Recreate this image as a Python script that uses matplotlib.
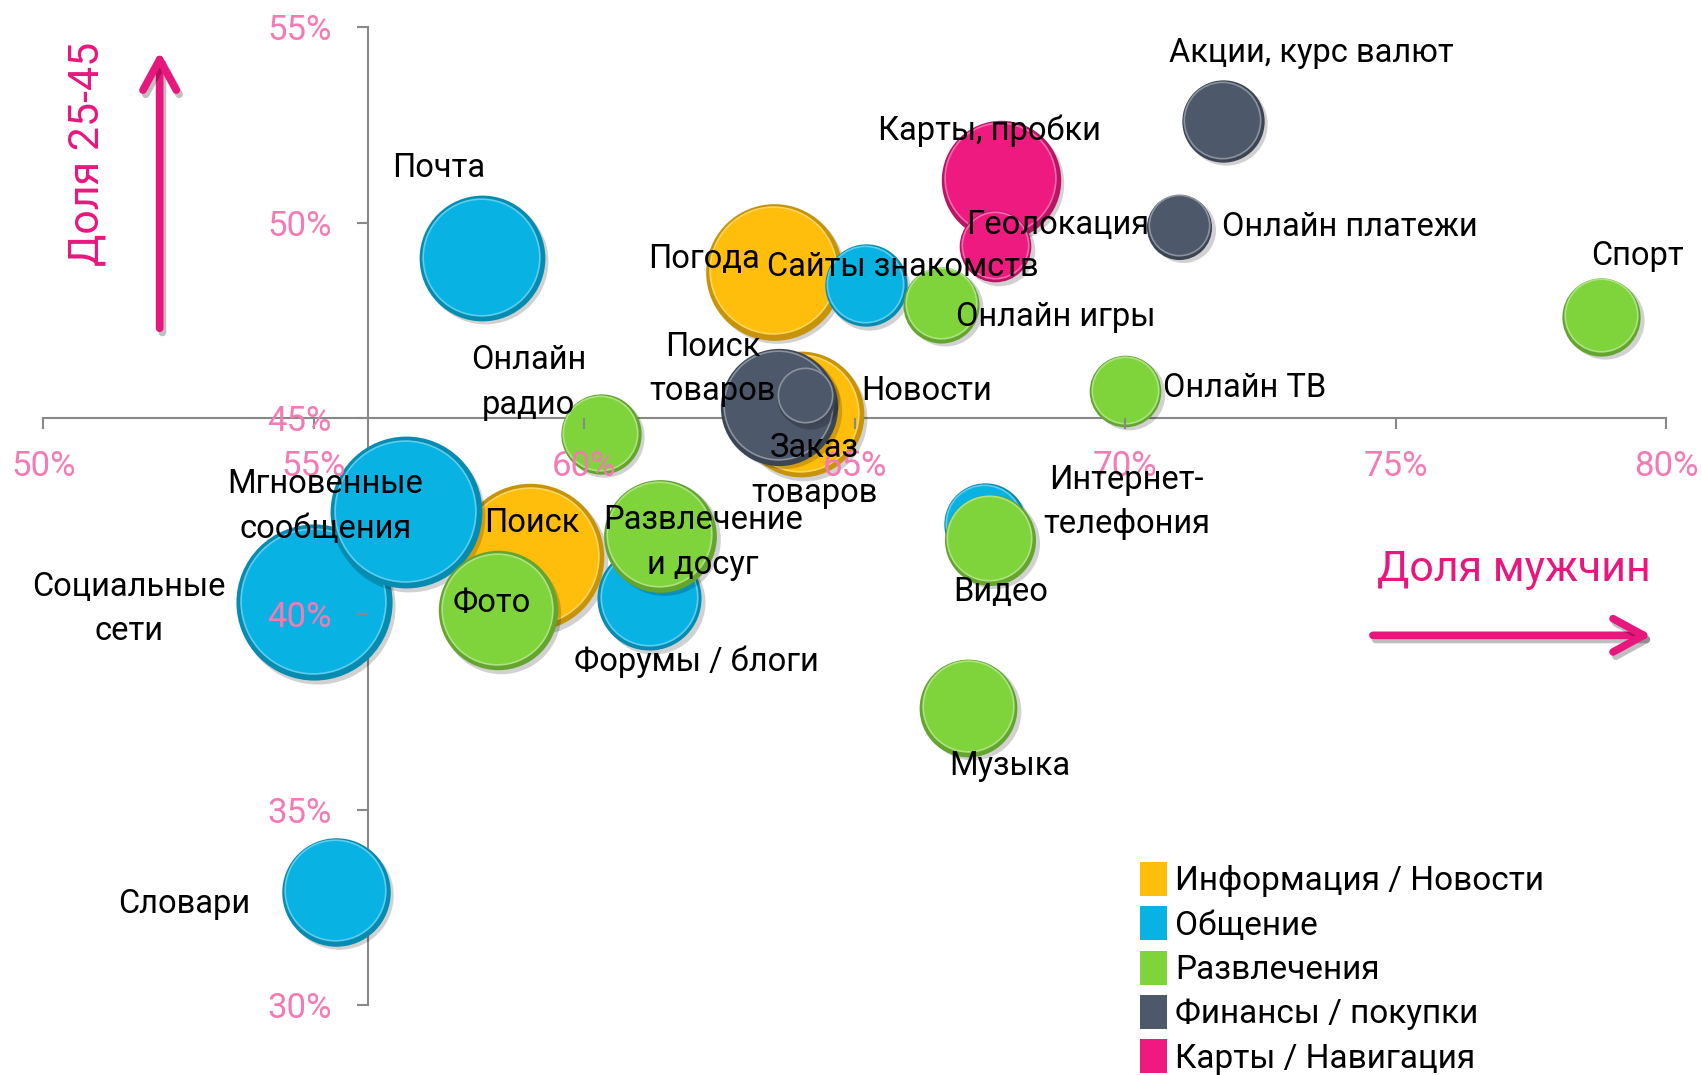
import matplotlib
matplotlib.use('Agg')
import matplotlib.pyplot as plt
import matplotlib.transforms as mtransforms
import matplotlib.patheffects as pe
from matplotlib.patches import Patch
from matplotlib.colors import to_rgb
from matplotlib.ticker import FuncFormatter

plt.rcParams['font.family'] = ['Roboto', 'DejaVu Sans']

# groups of services (legend)
categories = ['Информация / Новости', 'Общение', 'Развлечения',
              'Финансы / покупки', 'Карты / Навигация']
cat_colors = ['#FFBE0B', '#08B2E3', '#7FD43C', '#4D586A', '#EE1A80']

# one entry per bubble
services = ['Почта', 'Погода', 'Сайты знакомств', 'Онлайн игры', 'Карты, пробки',
            'Геолокация', 'Акции, курс валют', 'Онлайн платежи', 'Спорт', 'Онлайн ТВ',
            'Онлайн\nрадио', 'Поиск\nтоваров', 'Новости', 'Заказ\nтоваров',
            'Социальные\nсети', 'Мгновенные\nсообщения', 'Поиск', 'Фото',
            'Развлечение\nи досуг', 'Форумы / блоги', 'Интернет-\nтелефония', 'Видео',
            'Музыка', 'Словари']
group = [1, 0, 1, 2, 4,
         4, 3, 3, 2, 2,
         2, 3, 0, 3,
         1, 1, 0, 2,
         2, 1, 1, 2,
         2, 1]
men_share = [58.1, 63.5, 65.2, 66.6, 67.7,
             67.6, 71.8, 71.0, 78.8, 70.0,
             60.3, 63.6, 64.0, 64.1,
             55.0, 56.7, 59.0, 58.4,
             61.4, 61.2, 67.4, 67.5,
             67.1, 55.4]
age_share = [49.1, 48.75, 48.4, 47.9, 51.1,
             49.4, 52.6, 49.9, 47.6, 45.7,
             44.6, 45.3, 45.1, 45.55,
             40.3, 42.6, 41.45, 40.1,
             42.0, 40.4, 42.3, 41.9,
             37.6, 32.9]
audience = [33.6, 39.7, 14.4, 12.3, 30.3,
            10.9, 14.4, 9.0, 13.0, 10.9,
            13.7, 29.2, 33.6, 7.3,
            51.8, 49.0, 46.2, 30.3,
            27.0, 23.0, 14.4, 17.6,
            20.3, 25.0]
# label offsets from bubble centre, points
label_offset = [(-31, 65), (-50, 9), (27, 13), (82, -9), (-8, 35),
                (45, 15), (64, 49), (123, 0), (26, 44), (86, 2),
                (-52, 37), (-48, 27), (91, 17), (6, -53),
                (-133, -5), (-58, 4), (1, 25), (-4, 5),
                (31, -5), (34, -46), (102, 16), (8, -38),
                (30, -42), (-109, -9)]

size_k = 244

fig = plt.figure(figsize=(17.02, 10.75), dpi=100)
ax = fig.add_axes([0.0255, 0.0649, 0.9535, 0.9099])
ax.set_xlim(50, 80)
ax.set_ylim(30, 55)

shadow_tr = mtransforms.offset_copy(ax.transData, fig=fig, x=2.5, y=-2.5, units='points')
face_tr = mtransforms.offset_copy(ax.transData, fig=fig, x=-0.5, y=1, units='points')


def shade(c, f):
    r, g, b = to_rgb(c)
    return (r*f, g*f, b*f)


def light(c, f):
    r, g, b = to_rgb(c)
    return (r+(1-r)*f, g+(1-g)*f, b+(1-b)*f)


order = sorted(range(len(services)), key=lambda i: group[i])
z = 2.0
for i in order:
    col = cat_colors[group[i]]
    s = audience[i]*size_k
    ax.scatter([men_share[i]], [age_share[i]], s=s, color='k', alpha=0.18,
               linewidths=0, transform=shadow_tr, zorder=z, clip_on=False)
    ax.scatter([men_share[i]], [age_share[i]], s=s, color=shade(col, 0.78),
               linewidths=0, zorder=z+0.01, clip_on=False)
    ax.scatter([men_share[i]], [age_share[i]], s=s*0.86, facecolor=col,
               edgecolor=light(col, 0.35), linewidths=1.2, transform=face_tr,
               zorder=z+0.02, clip_on=False)
    z += 0.05

for i in range(len(services)):
    ax.annotate(services[i], (men_share[i], age_share[i]), xytext=label_offset[i],
                textcoords='offset points', ha='center', va='center',
                fontsize=23.5, color='black', zorder=20, linespacing=1.5)

# axes: crossing lines
ax.spines['left'].set_position(('data', 56))
ax.spines['bottom'].set_position(('data', 45))
ax.spines['right'].set_visible(False)
ax.spines['top'].set_visible(False)
for sp in ['left', 'bottom']:
    ax.spines[sp].set_color('#888888')
    ax.spines[sp].set_linewidth(1.5)
    ax.spines[sp].set_zorder(1)
ax.set_xticks([50, 55, 60, 65, 70, 75, 80])
ax.set_yticks([30, 35, 40, 45, 50, 55])
pct = FuncFormatter(lambda v, p: '%d%%' % v)
ax.xaxis.set_major_formatter(pct)
ax.yaxis.set_major_formatter(pct)
ax.tick_params(axis='x', direction='out', length=8, width=1.5, color='#888888',
               labelcolor='#F47AB4', labelsize=25, pad=15)
ax.tick_params(axis='y', direction='out', length=8, width=1.5, color='#888888',
               labelcolor='#F47AB4', labelsize=25, pad=18)
ax.xaxis.set_zorder(15)
ax.yaxis.set_zorder(15)
ax.patch.set_visible(False)

# axis titles with arrows
pink = '#E8177D'
fig.text(0.0511, 0.857, 'Доля 25-45', rotation=90, ha='center', va='center',
         fontsize=31, color=pink)
fig.text(0.8895, 0.470, 'Доля мужчин', ha='center', va='center',
         fontsize=31, color=pink)
arrow_pe = [pe.SimpleLineShadow(offset=(2, -3), shadow_color='k', alpha=0.25), pe.Normal()]
ax.annotate('', xy=(0.0938, 0.9546), xytext=(0.0938, 0.692), xycoords='figure fraction',
            arrowprops=dict(arrowstyle='->,head_length=0.55,head_width=0.3',
                            mutation_scale=40, lw=5.5, color=pink, capstyle='round',
                            path_effects=arrow_pe))
ax.annotate('', xy=(0.972, 0.409), xytext=(0.805, 0.409), xycoords='figure fraction',
            arrowprops=dict(arrowstyle='->,head_length=0.55,head_width=0.3',
                            mutation_scale=40, lw=5.5, color=pink, capstyle='round',
                            path_effects=arrow_pe))

handles = [Patch(facecolor=c, edgecolor='none') for c in cat_colors]
ax.legend(handles, categories, loc='upper left', bbox_to_anchor=(0.676, 0.1465),
          frameon=False, fontsize=24, handlelength=0.8, handleheight=1.2,
          handletextpad=0.25, labelspacing=0.27, borderaxespad=0, borderpad=0)

fig.savefig('out.png', dpi=100)
